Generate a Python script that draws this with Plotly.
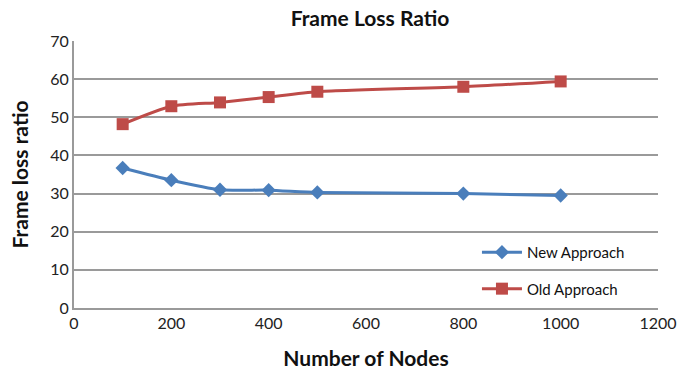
import plotly.graph_objects as go

# Frame loss ratio versus number of nodes
nodes = [100, 200, 300, 400, 500, 800, 1000]
new_approach = [36.7, 33.5, 31.0, 30.9, 30.3, 30.0, 29.5]
old_approach = [48.2, 52.9, 53.9, 55.3, 56.7, 58.0, 59.4]

x_ticks = [0, 200, 400, 600, 800, 1000, 1200]
y_ticks = [0, 10, 20, 30, 40, 50, 60, 70]

BLUE = "#4a7ebb"
RED = "#be4b48"
FONT = "Lato, 'Open Sans', sans-serif"

fig = go.Figure()
fig.add_trace(go.Scatter(
    x=nodes, y=new_approach, name="New Approach", legendgroup="new",
    mode="lines+markers",
    line=dict(color=BLUE, width=3, shape="spline", smoothing=0.6),
    marker=dict(symbol="diamond", size=11, color=BLUE),
))
fig.add_trace(go.Scatter(
    x=nodes, y=old_approach, name="Old Approach", legendgroup="old",
    mode="lines+markers",
    line=dict(color=RED, width=3, shape="spline", smoothing=0.6),
    marker=dict(symbol="square", size=12, color=RED),
))

fig.update_layout(
    width=689, height=379,
    margin=dict(l=74, r=22, t=41, b=71),
    paper_bgcolor="white", plot_bgcolor="white",
    font=dict(family=FONT, size=16, color="#222"),
    title=dict(text="<b>Frame Loss Ratio</b>", x=0.537, xanchor="center",
               y=0.95, yanchor="middle", font=dict(size=21, color="#111")),
    showlegend=True,
    legend=dict(x=0.69, y=0.27, xanchor="left", yanchor="top",
                bgcolor="rgba(255,255,255,0)", font=dict(size=15, color="#111"),
                tracegroupgap=14, itemwidth=40),
    xaxis=dict(range=[0, 1200], tickvals=x_ticks, showgrid=False,
               showline=True, linecolor="#9a9a9a", linewidth=2,
               ticks="", zeroline=False,
               title=dict(text="<b>Number of Nodes</b>", font=dict(size=21, color="#111"),
                          standoff=20)),
    yaxis=dict(range=[0, 70], tickvals=y_ticks, showgrid=True,
               gridcolor="#9a9a9a", gridwidth=1.5,
               showline=True, linecolor="#9a9a9a", linewidth=2,
               ticks="", zeroline=False, ticksuffix="  ",
               title=dict(text="<b>Frame loss ratio</b>", font=dict(size=21, color="#111"),
                          standoff=16)),
)

fig.write_html("out.html")
